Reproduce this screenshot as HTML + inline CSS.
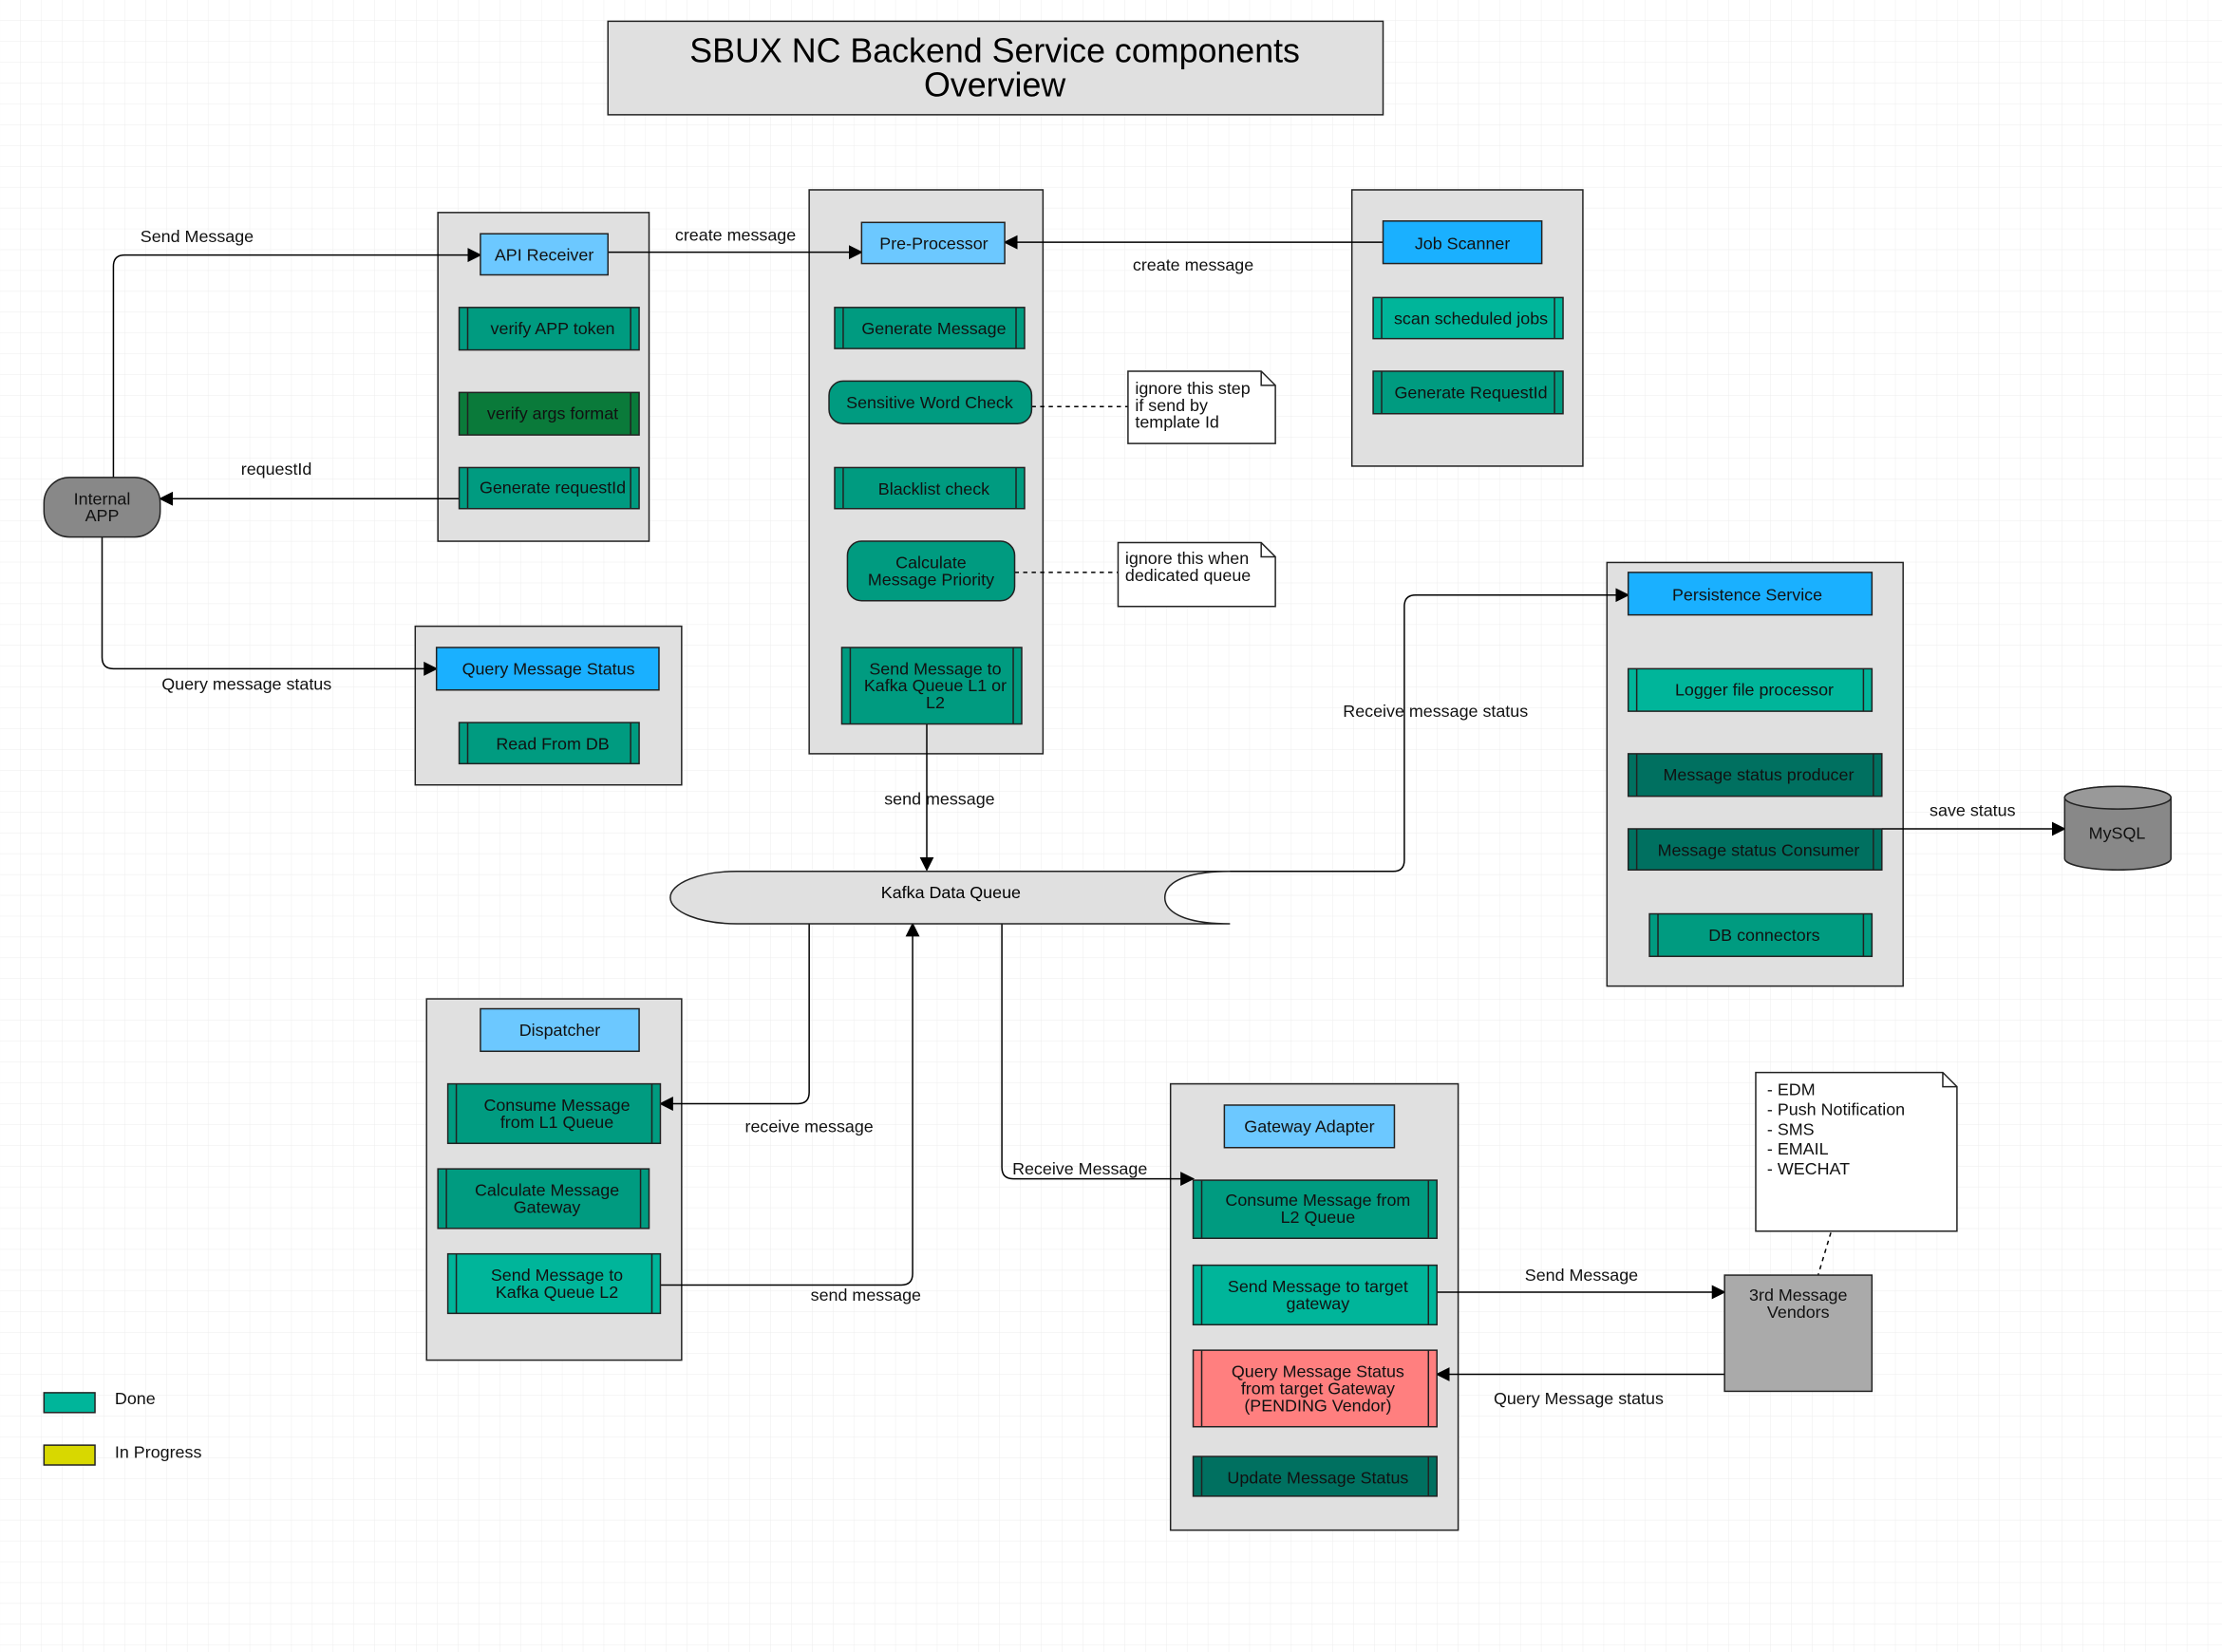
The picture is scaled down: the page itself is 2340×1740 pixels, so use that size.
<!DOCTYPE html>
<html><head><meta charset="utf-8"><style>html,body{margin:0;padding:0;background:#fff}svg{display:block}</style></head>
<body>
<svg width="2340" height="1740" viewBox="0 0 1568 1166" xmlns="http://www.w3.org/2000/svg" font-family="Liberation Sans, sans-serif" font-size="12" text-anchor="middle">
<defs>
<pattern id="g" width="14.7" height="14.7" patternUnits="userSpaceOnUse"><path d="M14.7 0V14.7H0" fill="none" stroke="#ececec" stroke-width="0.6"/></pattern>
<marker id="a" markerWidth="10" markerHeight="10" refX="9" refY="5" orient="auto" markerUnits="userSpaceOnUse"><path d="M0,0L10,5L0,10Z" fill="#000"/></marker>
</defs>
<rect width="1568" height="1166" fill="url(#g)"/>
<g stroke="#222" stroke-width="1">
<rect x="429" y="15" width="547" height="66" fill="#e0e0e0"/>
<rect x="309" y="150" width="149" height="232" fill="#e0e0e0"/>
<rect x="293" y="442" width="188" height="112" fill="#e0e0e0"/>
<rect x="571" y="134" width="165" height="398" fill="#e0e0e0"/>
<rect x="954" y="134" width="163" height="195" fill="#e0e0e0"/>
<rect x="1134" y="397" width="209" height="299" fill="#e0e0e0"/>
<rect x="301" y="705" width="180" height="255" fill="#e0e0e0"/>
<rect x="826" y="765" width="203" height="315" fill="#e0e0e0"/>
</g>
<text x="702" y="44" font-size="24">SBUX NC Backend Service components</text>
<text x="702" y="68" font-size="24">Overview</text>
<!-- connectors -->
<g fill="none" stroke="#000" stroke-width="1">
<path d="M429,178H608" marker-end="url(#a)"/>
<path d="M976,171H709" marker-end="url(#a)"/>
<path d="M80,337V188Q80,180 88,180H339" marker-end="url(#a)"/>
<path d="M324,352H113" marker-end="url(#a)"/>
<path d="M72,379V464Q72,472 80,472H308" marker-end="url(#a)"/>
<path d="M654,511V614" marker-end="url(#a)"/>
<path d="M866,615H983Q991,615 991,607V428Q991,420 999,420H1149" marker-end="url(#a)"/>
<path d="M1328,585H1457" marker-end="url(#a)"/>
<path d="M571,652V771Q571,779 563,779H466" marker-end="url(#a)"/>
<path d="M466,907H636Q644,907 644,899V652" marker-end="url(#a)"/>
<path d="M707,652V824Q707,832 715,832H842" marker-end="url(#a)"/>
<path d="M1014,912H1217" marker-end="url(#a)"/>
<path d="M1217,970H1014" marker-end="url(#a)"/>
<path d="M728,287H796M716,404H789M1292,870L1283,900" stroke-dasharray="3,3"/>
</g>
<!-- kafka -->
<path d="M520,615H868C832,615 822,625 822,633.5C822,642 832,652 868,652H520A47,18.5 0 0 1 520,615Z" fill="#e0e0e0" stroke="#222"/>
<text x="671" y="634">Kafka Data Queue</text>
<!-- nodes -->
<g stroke="#222" stroke-width="1">
<rect x="31" y="337" width="82" height="42" rx="18" fill="#888"/>
<rect x="339" y="165" width="90" height="29" fill="#6cc8ff"/>
<rect x="608" y="157" width="101" height="29" fill="#6cc8ff"/>
<rect x="976" y="156" width="112" height="30" fill="#1ab0ff"/>
<rect x="308" y="457" width="157" height="30" fill="#1ab0ff"/>
<rect x="1149" y="404" width="172" height="30" fill="#1ab0ff"/>
<rect x="339" y="712" width="112" height="30" fill="#6cc8ff"/>
<rect x="864" y="780" width="120" height="30" fill="#6cc8ff"/>
<rect x="585" y="269" width="143" height="30" rx="10" fill="#009b80"/>
<rect x="598" y="382" width="118" height="42" rx="10" fill="#009b80"/>
<rect x="1217" y="900" width="104" height="82" fill="#aaa"/>
<path d="M1239,757H1371L1381,767V869H1239Z" fill="#fff"/>
<path d="M1371,757V767H1381" fill="none"/>
<path d="M796,262H890L900,272V313H796Z" fill="#fff"/>
<path d="M890,262V272H900" fill="none"/>
<path d="M789,383H890L900,393V428H789Z" fill="#fff"/>
<path d="M890,383V393H900" fill="none"/>
<path d="M1457,563A37.5,8 0 0 1 1532,563V606A37.5,8 0 0 1 1457,606Z" fill="#888"/>
<ellipse cx="1494.5" cy="563" rx="37.5" ry="8" fill="#999"/>
<rect x="31" y="983" width="36" height="14" fill="#00b59a"/>
<rect x="31" y="1020" width="36" height="14" fill="#d8d800"/>
</g>
<!-- process boxes -->
<g stroke="#222" stroke-width="1">
<g fill="#009b80">
<rect x="324" y="217" width="127" height="30"/><rect x="324" y="330" width="127" height="29"/>
<rect x="324" y="510" width="127" height="29"/><rect x="589" y="217" width="134" height="29"/>
<rect x="589" y="330" width="134" height="29"/><rect x="594" y="457" width="127" height="54"/>
<rect x="969" y="262" width="134" height="30"/><rect x="1164" y="645" width="157" height="30"/>
<rect x="316" y="765" width="150" height="42"/><rect x="309" y="825" width="149" height="42"/>
<rect x="842" y="833" width="172" height="41"/>
</g>
<rect x="324" y="277" width="127" height="30" fill="#0a7a3a"/>
<g fill="#00b59a">
<rect x="969" y="210" width="134" height="29"/><rect x="1149" y="472" width="172" height="30"/>
<rect x="316" y="885" width="150" height="42"/><rect x="842" y="893" width="172" height="42"/>
</g>
<g fill="#007060">
<rect x="1149" y="532" width="179" height="30"/><rect x="1149" y="585" width="179" height="29"/>
<rect x="842" y="1028" width="172" height="28"/>
</g>
<rect x="842" y="953" width="172" height="54" fill="#ff7f7f"/>
<path d="M330,217V247M445,217V247M330,277V307M445,277V307M330,330V359M445,330V359M330,510V539M445,510V539M595,217V246M717,217V246M595,330V359M717,330V359M600,457V511M715,457V511M975,210V239M1097,210V239M975,262V292M1097,262V292M1155,472V502M1315,472V502M1155,532V562M1322,532V562M1155,585V614M1322,585V614M1170,645V675M1315,645V675M322,765V807M460,765V807M315,825V867M452,825V867M322,885V927M460,885V927M848,833V874M1008,833V874M848,893V935M1008,893V935M848,953V1007M1008,953V1007M848,1028V1056M1008,1028V1056" fill="none"/>
</g>
<!-- texts -->
<g fill="#111">
<text x="72" y="356">Internal</text><text x="72" y="368">APP</text>
<text x="384" y="184">API Receiver</text>
<text x="390" y="236">verify APP token</text>
<text x="390" y="296">verify args format</text>
<text x="390" y="348">Generate requestId</text>
<text x="387" y="476">Query Message Status</text>
<text x="390" y="529">Read From DB</text>
<text x="659" y="176">Pre-Processor</text>
<text x="659" y="236">Generate Message</text>
<text x="656" y="288">Sensitive Word Check</text>
<text x="659" y="349">Blacklist check</text>
<text x="657" y="401">Calculate</text><text x="657" y="413">Message Priority</text>
<text x="660" y="476">Send Message to</text><text x="660" y="488">Kafka Queue L1 or</text><text x="660" y="500">L2</text>
<text x="1032" y="176">Job Scanner</text>
<text x="1038" y="229">scan scheduled jobs</text>
<text x="1038" y="281">Generate RequestId</text>
<text x="1233" y="424">Persistence Service</text>
<text x="1238" y="491">Logger file processor</text>
<text x="1241" y="551">Message status producer</text>
<text x="1241" y="604">Message status Consumer</text>
<text x="1245" y="664">DB connectors</text>
<text x="1494" y="592">MySQL</text>
<text x="395" y="731">Dispatcher</text>
<text x="393" y="784">Consume Message</text><text x="393" y="796">from L1 Queue</text>
<text x="386" y="844">Calculate Message</text><text x="386" y="856">Gateway</text>
<text x="393" y="904">Send Message to</text><text x="393" y="916">Kafka Queue L2</text>
<text x="924" y="799">Gateway Adapter</text>
<text x="930" y="851">Consume Message from</text><text x="930" y="863">L2 Queue</text>
<text x="930" y="912">Send Message to target</text><text x="930" y="924">gateway</text>
<text x="930" y="972">Query Message Status</text><text x="930" y="984">from target Gateway</text><text x="930" y="996">(PENDING Vendor)</text>
<text x="930" y="1047">Update Message Status</text>
<text x="1269" y="918">3rd Message</text><text x="1269" y="930">Vendors</text>
<g text-anchor="start">
<text x="801" y="278">ignore this step</text><text x="801" y="290">if send by</text><text x="801" y="302">template Id</text>
<text x="794" y="398">ignore this when</text><text x="794" y="410">dedicated queue</text>
<text x="1247" y="773">- EDM</text><text x="1247" y="787">- Push Notification</text><text x="1247" y="801">- SMS</text><text x="1247" y="815">- EMAIL</text><text x="1247" y="829">- WECHAT</text>
<text x="81" y="991">Done</text><text x="81" y="1029">In Progress</text>
</g>
<text x="139" y="171">Send Message</text>
<text x="519" y="170">create message</text>
<text x="842" y="191">create message</text>
<text x="195" y="335">requestId</text>
<text x="174" y="487">Query message status</text>
<text x="663" y="568">send message</text>
<text x="1013" y="506">Receive message status</text>
<text x="1392" y="576">save status</text>
<text x="571" y="799">receive message</text>
<text x="611" y="918">send message</text>
<text x="762" y="829">Receive Message</text>
<text x="1116" y="904">Send Message</text>
<text x="1114" y="991">Query Message status</text>
</g>
</svg>
</body></html>
